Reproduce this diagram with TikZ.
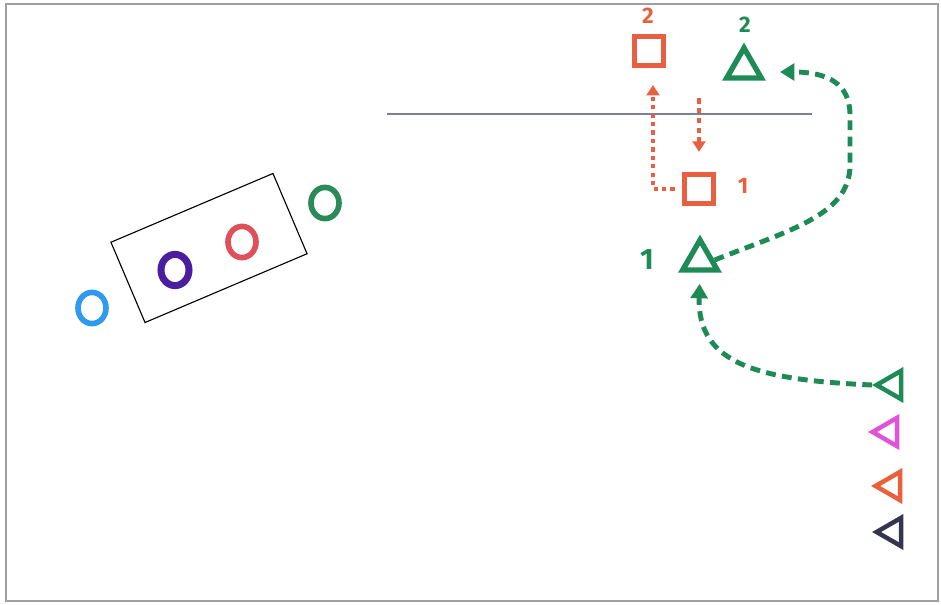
\documentclass[tikz,border=0pt]{standalone}
\usepackage{fontspec}
\setsansfont{Fira Sans}
\usepackage{xcolor}
\usepackage{tikz}
\usetikzlibrary{arrows.meta,positioning,shapes.geometric}
\definecolor{penred}{HTML}{E8603F}
\definecolor{pengreen}{HTML}{1E8A55}
\definecolor{ringblue}{HTML}{2E9BF0}
\definecolor{ringpurple}{HTML}{4A1E9E}
\definecolor{ringred}{HTML}{E0505C}
\definecolor{ringgreen}{HTML}{2A8A58}
\definecolor{markmagenta}{HTML}{E052D8}
\definecolor{markorange}{HTML}{EA603A}
\definecolor{marknavy}{HTML}{35354F}
\definecolor{netline}{HTML}{7C8290}
\tikzset{
  ring/.style={
    draw,
    ellipse,
    line width=4pt,
    minimum width=7mm,
    minimum height=7.8mm,
    inner sep=0pt
  },
  cbox/.style={
    draw=penred,
    line width=4pt,
    minimum size=7.2mm,
    inner sep=0pt
  },
  cone/.style={
    draw=pengreen,
    regular polygon,
    regular polygon sides=3,
    line width=3.8pt,
    minimum size=10mm,
    inner sep=0pt
  },
  marker/.style={
    draw,
    regular polygon,
    regular polygon sides=3,
    shape border rotate=90,
    line width=3.2pt,
    minimum size=8.2mm,
    inner sep=0pt
  },
  num/.style={
    font=\sffamily\bfseries\fontsize{16}{16}\selectfont
  },
  bignum/.style={
    font=\sffamily\bfseries\fontsize{21}{21}\selectfont
  },
  greenrun/.style={
    draw=pengreen,
    line width=3.5pt,
    dash pattern=on 7pt off 4.5pt,
    -{Triangle[length=3.6mm,width=4.2mm]}
  },
  redrun/.style={
    draw=penred,
    line width=2.4pt,
    dash pattern=on 4pt off 3pt,
    -{Triangle[length=2.6mm,width=3.2mm]}
  }
}

\begin{document}
\begin{tikzpicture}[x=0.25mm,y=-0.25mm]
  \useasboundingbox (0,0) rectangle (941,605);
  \draw[gray!75, line width=1.4pt] (6,4) rectangle (938,601);

  \coordinate (netL) at (387,114);
  \coordinate (netR) at (812,114);
  \draw[netline, line width=1.1pt] (netL) -- (netR);

  \node[draw, line width=0.8pt, rotate=23, minimum width=44mm, minimum height=21.8mm] (tray) at (209,248) {};
  \node[ring, draw=ringblue] (ring1) at (92,308) {};
  \node[ring, draw=ringpurple, line width=5pt] (ring2) at (175,270) {};
  \node[ring, draw=ringred] (ring3) at (242,242) {};
  \node[ring, draw=ringgreen] (ring4) at (325,203) {};

  \node[cbox] (sq2) at (649,51) {};
  \node[cbox] (sq1) at (699,189) {};
  \node[num, text=penred] (sq2num) at (648,16) {2};
  \node[num, text=penred] (sq1num) at (743,186) {1};

  \node[cone] (tri2) at (744,68) {};
  \node[cone] (tri1) at (700,260) {};
  \node[num, text=pengreen] (tri2num) at (745,25) {2};
  \node[bignum, text=pengreen] (tri1num) at (647,260) {1};

  \node[marker, draw=pengreen] (mk1) at (893,385) {};
  \node[marker, draw=markmagenta] (mk2) at (889,432) {};
  \node[marker, draw=markorange] (mk3) at (892,486) {};
  \node[marker, draw=marknavy] (mk4) at (893,532) {};

  \coordinate (rtip) at (653,85);
  \coordinate (rtop) at (699,98);
  \coordinate (gtip) at (780,72);

  \draw[redrun, dash pattern=on 3pt off 3pt, shorten <=1.8mm] (sq1.west) -| (rtip);
  \path (rtop) edge[redrun, shorten >=5mm] (sq1.north);

  \draw[greenrun] (tri1.east) .. controls (790,230) and (850,215) .. (850,165)
    -- (850,115) .. controls (850,84) and (828,72) .. (gtip);
  \draw[greenrun, shorten >=2.8mm] (mk1.west) .. controls (760,380) and (697,365) .. (tri1.south);
\end{tikzpicture}
\end{document}
